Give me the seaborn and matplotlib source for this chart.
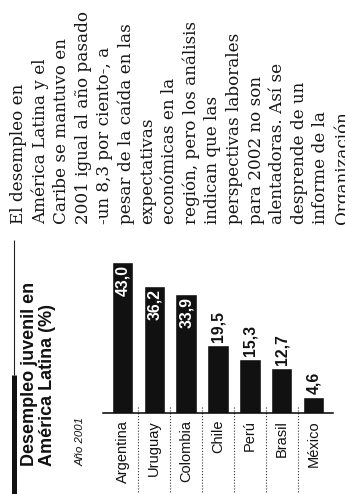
import matplotlib
matplotlib.use("Agg")
import matplotlib.pyplot as plt
from matplotlib.lines import Line2D
import seaborn as sns
import pandas as pd

# --- data -------------------------------------------------------------
paises = ["Argentina", "Uruguay", "Colombia", "Chile", "Perú", "Brasil", "México"]
valores = [43.0, 36.2, 33.9, 19.5, 15.3, 12.7, 4.6]

titulo = ["Desempleo juvenil en", "América Latina (%)"]
subtitulo = "Año 2001"

articulo = [
    "El desempleo en",
    "América Latina y el",
    "Caribe se mantuvo en",
    "2001 igual al año pasado",
    "-un 8,3 por ciento-, a",
    "pesar de la caída en las",
    "expectativas",
    "económicas en la",
    "región, pero los análisis",
    "indican que las",
    "perspectivas laborales",
    "para 2002 no son",
    "alentadoras. Así se",
    "desprende de un",
    "informe de la",
    "Organización",
]

# --- figure -----------------------------------------------------------
W, H = 345, 494
sns.set_style("white")
plt.rcParams["font.family"] = ["Liberation Sans", "DejaVu Sans"]

fig = plt.figure(figsize=(W / 100, H / 100), dpi=100)
fig.patch.set_facecolor("white")


def fx(x):
    return x / W


def fy(y):
    return 1 - y / H


# chart area (bars grow upward, labels read bottom-to-top)
ax_left, ax_right, ax_top, ax_base = 103, 333, 250, 413
ax = fig.add_axes([fx(ax_left), fy(ax_base), (ax_right - ax_left) / W, (ax_base - ax_top) / H])

df = pd.DataFrame({"pais": paises, "valor": valores})
sns.barplot(data=df, x="pais", y="valor", color="#111111", width=0.68,
            saturation=1, ax=ax)
ax.set_xlim(-0.613, 6.613)
ax.set_ylim(0, 46.44)
ax.set_xlabel("")
ax.set_ylabel("")
ax.set_yticks([])
for side in ("left", "top", "right"):
    ax.spines[side].set_visible(False)
ax.spines["bottom"].set_color("black")
ax.spines["bottom"].set_linewidth(1.1)
ax.set_facecolor("none")
ax.tick_params(axis="x", length=0, pad=5)
for lbl in ax.get_xticklabels():
    lbl.set_rotation(90)
    lbl.set_fontsize(10.5)
    lbl.set_va("top")
    lbl.set_ha("center")
    lbl.set_color("#111111")

# dotted separators between countries
sep_tr = matplotlib.transforms.blended_transform_factory(ax.transData, ax.transAxes)
for k in range(len(paises) - 1):
    ax.plot([k + 0.5, k + 0.5], [0.035, -0.5], transform=sep_tr, clip_on=False,
            color="#333333", lw=0.8, ls=(0, (1, 1.6)))

# value labels: white inside tall bars, black above short ones
num_font = dict(family=["Liberation Sans Narrow", "Liberation Sans", "DejaVu Sans"],
                fontweight="bold", fontsize=11.3)
for i, v in enumerate(valores):
    txt = f"{v:.1f}".replace(".", ",")
    if v > 30:
        ax.annotate(txt, (i, v), xytext=(0, -3), textcoords="offset pixels",
                    rotation=90, rotation_mode="anchor", ha="right", va="center",
                    color="white", **num_font)
    else:
        ax.annotate(txt, (i, v), xytext=(0, 3), textcoords="offset pixels",
                    rotation=90, rotation_mode="anchor", ha="left", va="center",
                    color="#111111", **num_font)

# heading rule: thick segment plus a thin continuation
fig.add_artist(Line2D([fx(13.5), fx(13.5)], [fy(375), fy(494)], transform=fig.transFigure,
                      color="#111111", lw=3.6, solid_capstyle="butt"))
fig.add_artist(Line2D([fx(13.5), fx(13.5)], [fy(240), fy(375)], transform=fig.transFigure,
                      color="#222222", lw=0.8, solid_capstyle="butt"))

# title block
for j, line in enumerate(titulo):
    fig.text(fx(34 + 18 * j), fy(466), line, rotation=90, rotation_mode="anchor",
             ha="left", va="baseline", fontsize=13, fontweight="bold", color="#111111")
fig.text(fx(84), fy(466), subtitulo, rotation=90, rotation_mode="anchor",
         ha="left", va="baseline", fontsize=8.2, fontstyle="italic", color="#111111")

# article column
for j, line in enumerate(articulo):
    fig.text(fx(23 + 21.6 * j), fy(224), line, rotation=90, rotation_mode="anchor",
             ha="left", va="baseline", fontsize=12.1, family="DejaVu Serif",
             color="#151515")

fig.savefig("out.png", dpi=100, facecolor="white")
